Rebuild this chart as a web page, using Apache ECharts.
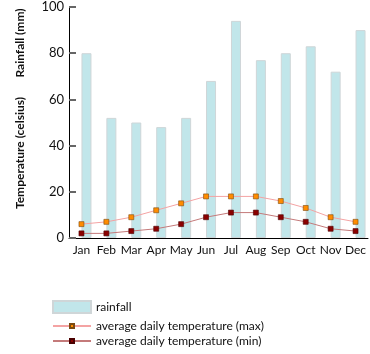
<!DOCTYPE html>
<html>
<head>
<meta charset="utf-8">
<script src="https://cdn.jsdelivr.net/npm/echarts@6/dist/echarts.min.js"></script>
<style>
  html, body { margin: 0; padding: 0; background: #ffffff; }
  #chart { width: 370px; height: 354px; }
</style>
</head>
<body>
<div id="chart"></div>
<script>
  // data
  var months = ['Jan', 'Feb', 'Mar', 'Apr', 'May', 'Jun', 'Jul', 'Aug', 'Sep', 'Oct', 'Nov', 'Dec'];
  var rainfall = [80, 52, 50, 48, 52, 68, 94, 77, 80, 83, 72, 90];
  var tempMax = [6, 7, 9, 12, 15, 18, 18, 18, 16, 13, 9, 7];
  var tempMin = [2, 2, 3, 4, 6, 9, 11, 11, 9, 7, 4, 3];

  var font = 'Lato, "DejaVu Sans", sans-serif';

  var myChart = echarts.init(document.getElementById('chart'));

  myChart.setOption({
    animation: false,
    textStyle: {fontFamily: font},
    grid: {left: 69, right: 2, top: 7, bottom: 116},
    graphic: [
      {
        type: 'text', x: 20, y: 43, rotation: Math.PI / 2,
        style: {text: 'Rainfall (mm)', font: 'bold 12px ' + font, fill: '#111', align: 'center', verticalAlign: 'middle'}
      },
      {
        type: 'text', x: 20, y: 153, rotation: Math.PI / 2,
        style: {text: 'Temperature (celsius)', font: 'bold 12px ' + font, fill: '#111', align: 'center', verticalAlign: 'middle'}
      }
    ],
    legend: [
      {
        orient: 'vertical', left: 52, top: 300, padding: 0,
        itemWidth: 38, itemHeight: 12,
        icon: 'rect',
        textStyle: {fontSize: 12, color: '#111', fontFamily: font},
        data: ['rainfall']
      },
      {
        orient: 'vertical', left: 52, top: 320, height: 34, padding: 0,
        itemWidth: 38, itemHeight: 5, itemGap: 3,
        textStyle: {fontSize: 12, color: '#111', fontFamily: font},
        data: ['average daily temperature (max)', 'average daily temperature (min)']
      }
    ],
    xAxis: {
      type: 'category',
      data: months,
      axisLine: {lineStyle: {color: '#000', width: 1}},
      axisTick: {inside: true, length: 5, lineStyle: {color: '#000'}},
      axisLabel: {color: '#111', fontSize: 12, margin: 6, interval: 0}
    },
    yAxis: {
      type: 'value',
      min: 0, max: 100, interval: 20,
      axisLine: {show: true, lineStyle: {color: '#000', width: 1}},
      axisTick: {show: true, inside: true, length: 7, lineStyle: {color: '#666', width: 2}},
      splitLine: {show: false},
      axisLabel: {color: '#111', fontSize: 13, margin: 5}
    },
    series: [
      {
        // empty slot so the rainfall bar starts at the category centre
        name: 'spacer', type: 'bar', data: [], barWidth: 10, barGap: '0%'
      },
      {
        name: 'rainfall', type: 'bar', data: rainfall,
        barWidth: 10, barGap: '0%',
        itemStyle: {color: '#c1e6ea', borderColor: '#cfd6d8', borderWidth: 1}
      },
      {
        name: 'average daily temperature (max)', type: 'line', data: tempMax,
        symbol: 'rect', symbolSize: 5,
        lineStyle: {color: '#f4a3a3', width: 1},
        itemStyle: {color: '#ff8c00', borderColor: '#7a4a10', borderWidth: 0.6}
      },
      {
        name: 'average daily temperature (min)', type: 'line', data: tempMin,
        symbol: 'rect', symbolSize: 5,
        lineStyle: {color: '#c47a7a', width: 1},
        itemStyle: {color: '#8b0000', borderColor: '#4a0000', borderWidth: 0.6}
      }
    ]
  });
</script>
</body>
</html>
